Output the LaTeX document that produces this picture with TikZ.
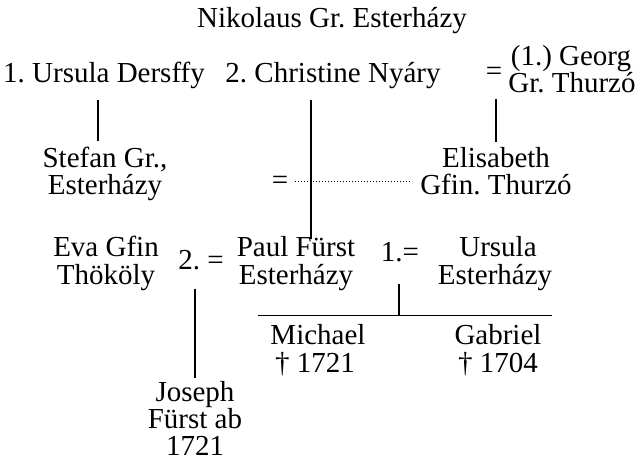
\documentclass[tikz,border=0pt]{standalone}
\usepackage{fontspec}
\setmainfont{Liberation Serif}
\frenchspacing
\begin{document}
\begin{tikzpicture}[x=1pt,y=-1pt,
  t/.style={font=\fontsize{29}{29}\selectfont, inner sep=0pt, anchor=base},
  up/.style={t, text depth=0pt},
  ln/.style={line width=1.2pt},
  dots/.style={line width=1pt, dash pattern=on 0.8pt off 2.2pt}]
\useasboundingbox (0,0) rectangle (641,465);
\node[t] (title) at (332,28) {Nikolaus Gr. Esterházy};
\node[t] (u1) at (104,83) {1. Ursula Dersffy};
\node[t] (c2) at (333,83) {2. Christine Nyáry};
\node[t] (eqG) at (494,81) {=};
\node[up] (georgA) at (571,66) {(1.) Georg};
\node[t, text height=20pt] (georgB) at (572,93) {Gr. Thurzó};
\node[up] (stefanA) at (105,168) {Stefan Gr.,};
\node[t] (stefanB) at (105,195) {Esterházy};
\node[t] (eqS) at (280,190) {=};
\node[up] (elisA) at (496,168) {Elisabeth};
\node[t] (elisB) at (496,195) {Gfin. Thurzó};
\node[up] (evaA) at (106,257) {Eva Gfin};
\node[t] (evaB) at (106,285) {Thököly};
\node[t] (m2) at (201,270) {2. =};
\node[up] (paulA) at (296,257) {Paul Fürst};
\node[t] (paulB) at (296,285) {Esterházy};
\node[t] (m1) at (400,262) {1.=};
\node[up] (ursA) at (498,257) {Ursula};
\node[t] (ursB) at (495,285) {Esterházy};
\node[up] (michA) at (318,345) {Michael};
\node[t] (michB) at (315,373) {† 1721};
\node[up] (gabA) at (498,345) {Gabriel};
\node[t] (gabB) at (498,373) {† 1704};
\node[up] (josA) at (195,402) {Joseph};
\node[up] (josB) at (195,429) {Fürst ab};
\node[t] (josC) at (195,456) {1721};
% connectors
\draw[ln] ([xshift=-6pt,yshift=-11pt]u1.south) -- ([xshift=-7pt,yshift=6pt]stefanA.north);
\draw[ln] ([xshift=-22pt,yshift=-11pt]c2.south) -- ([xshift=15pt,yshift=-2pt]paulA.north);
\draw[ln] ([xshift=-76pt,yshift=-5pt]georgB.south) -- ([yshift=6pt]elisA.north);
\draw[dots, shorten >=8pt] ([xshift=7pt,yshift=2pt]eqS.east) coordinate (dl) -- (dl -| elisB.west);
\draw[ln] ([xshift=-60pt,yshift=9pt]michA.north) -- ([xshift=54pt,yshift=9pt]gabA.north);
\draw[ln] ([xshift=-1pt,yshift=-21pt]m1.south) -- ([xshift=81pt,yshift=9pt]michA.north);
\draw[ln] ([xshift=-6pt,yshift=-18pt]m2.south) -- ([yshift=4pt]josA.north);
\end{tikzpicture}
\end{document}
